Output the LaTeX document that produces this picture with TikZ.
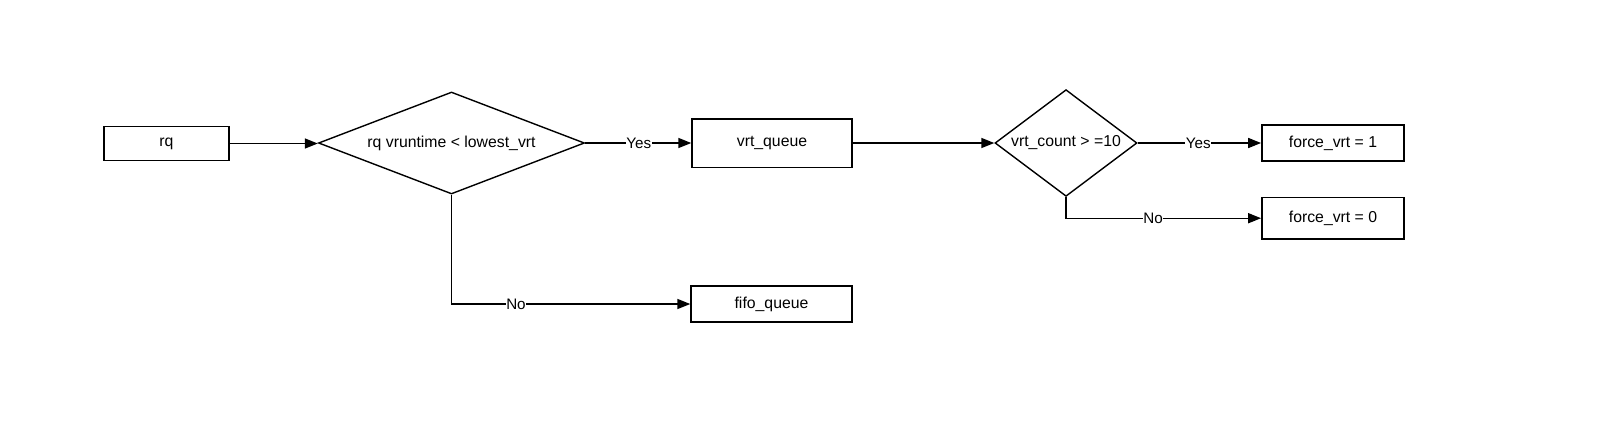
\documentclass[tikz,border=0pt]{standalone}
\usepackage{fontspec}
\setmainfont{Liberation Sans}
\usetikzlibrary{shapes.geometric,arrows.meta}
\begin{document}
\begin{tikzpicture}[x=1pt,y=-1pt,
  line width=1.4pt,
  every node/.style={font=\fontsize{15.8}{19}\selectfont},
  box/.style={draw,rectangle,inner sep=0pt,line width=1.4pt},
  decision/.style={draw,diamond,inner sep=0pt,line width=1.4pt},
  conn/.style={-{Triangle[length=13pt,width=10pt]},line width=1.4pt},
  lbl/.style={fill=white,inner sep=0.5pt,font=\fontsize{15.2}{18}\selectfont}]
\useasboundingbox (0,0) rectangle (1618,426);
\node[box,minimum width=125pt,minimum height=34pt] (rq) at (166.5,143.5) {rq};
\node[decision,aspect=2.6,minimum width=266pt,minimum height=102pt] (d1) at (451.5,143) {rq vruntime < lowest\_vrt};
\node[box,minimum width=160pt,minimum height=48.4pt] (vq) at (772,143) {vrt\_queue};
\node[box,minimum width=161pt,minimum height=35.7pt] (fq) at (771.5,304) {fifo\_queue};
\node[decision,aspect=1.4,minimum width=142pt,minimum height=106.7pt] (d2) at (1066,143) {vrt\_count > =10};
\node[box,minimum width=142.3pt,minimum height=35.7pt] (f1) at (1333,143) {force\_vrt = 1};
\node[box,minimum width=142.3pt,minimum height=41.7pt] (f0) at (1333,218.2) {force\_vrt = 0};
\draw[conn] (rq.east) -- (rq.east -| d1.west);
\draw[conn] (d1.east) -- node[lbl,pos=0.505] {Yes} (vq.west);
\draw[conn] (vq.east) -- (d2.west);
\draw[conn] (d2.east) -- node[lbl,pos=0.49] {Yes} (f1.west);
\draw[conn] (d1.south) |- node[lbl,pos=0.635] {No} (fq.west);
\draw[conn] (d2.south) |- node[lbl,pos=0.723] {No} (f0.west);
\end{tikzpicture}
\end{document}
